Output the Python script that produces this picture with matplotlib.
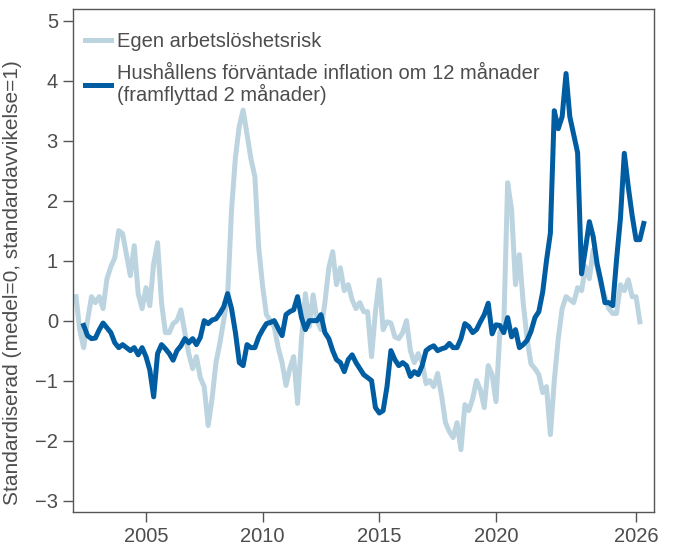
import numpy as np
import pandas as pd
import matplotlib
matplotlib.use("Agg")
import matplotlib.pyplot as plt

plt.rcParams['font.family'] = ['Liberation Sans', 'DejaVu Sans']

# Egen arbetslöshetsrisk, varannan månad från jan 2002
risk_start = '2002-01-01'
risk = [0.40, -0.15, -0.45, 0.0, 0.4, 0.30, 0.4, 0.2, 0.7, 0.9,
        1.05, 1.5, 1.45, 1.1, 0.75, 1.25, 0.45, 0.2, 0.55, 0.25,
        0.95, 1.3, 0.3, -0.2, -0.2, -0.05, 0.0, 0.18, -0.2, -0.55,
        -0.8, -0.6, -0.95, -1.1, -1.75, -1.3, -0.7, -0.38, 0.0, 0.4,
        1.85, 2.73, 3.25, 3.51, 3.1, 2.7, 2.4, 1.2, 0.57, 0.1,
        0.0, -0.1, -0.45, -0.7, -1.08, -0.8, -0.6, -1.38, -0.3, 0.45,
        -0.1, 0.43, 0.0, -0.15, 0.3, 0.88, 1.15, 0.6, 0.88, 0.5,
        0.6, 0.35, 0.2, 0.3, 0.15, 0.15, -0.6, 0.15, 0.68, -0.15,
        -0.02, -0.04, -0.27, -0.3, -0.2, 0.0, -0.5, -0.7, -0.55, -0.7,
        -1.05, -1.0, -1.1, -0.88, -1.25, -1.7, -1.85, -1.95, -1.7, -2.15,
        -1.4, -1.5, -1.3, -1.0, -1.15, -1.45, -0.75, -0.9, -1.35, -0.2,
        -0.1, 2.3, 1.85, 0.6, 1.1, 0.3, -0.3, -0.72, -0.8, -0.9,
        -1.2, -1.1, -1.9, -1.0, -0.3, 0.2, 0.4, 0.35, 0.3, 0.55,
        0.5, 0.9, 0.7, 1.18, 0.9, 0.6, 0.4, 0.2, 0.12, 0.12,
        0.6, 0.5, 0.68, 0.4, 0.4, -0.02]

# Hushållens förväntade inflation om 12 månader (framflyttad 2 månader)
infl_start = '2002-05-01'
infl = [-0.08, -0.25, -0.3, -0.29, -0.15, -0.04, -0.12, -0.2, -0.37, -0.45,
        -0.4, -0.45, -0.5, -0.45, -0.57, -0.45, -0.6, -0.82, -1.27, -0.55,
        -0.4, -0.47, -0.55, -0.66, -0.5, -0.42, -0.3, -0.37, -0.3, -0.4,
        -0.28, 0.0, -0.05, 0.01, 0.03, 0.12, 0.23, 0.45, 0.2, -0.2,
        -0.7, -0.75, -0.4, -0.45, -0.45, -0.27, -0.15, -0.05, -0.03, 0.0,
        -0.13, -0.25, 0.1, 0.15, 0.18, 0.4, 0.05, -0.15, 0.0, 0.0,
        0.0, 0.1, -0.2, -0.3, -0.5, -0.65, -0.7, -0.85, -0.65, -0.57,
        -0.7, -0.8, -0.9, -0.95, -1.0, -1.45, -1.54, -1.5, -1.1, -0.5,
        -0.65, -0.75, -0.7, -0.75, -0.93, -0.85, -0.9, -0.75, -0.5, -0.45,
        -0.42, -0.5, -0.47, -0.45, -0.38, -0.45, -0.45, -0.3, -0.05, -0.1,
        -0.2, -0.15, -0.02, 0.1, 0.29, -0.22, -0.07, -0.08, -0.2, 0.05,
        -0.27, -0.15, -0.45, -0.4, -0.33, -0.18, 0.05, 0.15, 0.48, 1.0,
        1.46, 3.5, 3.2, 3.4, 4.12, 3.4, 3.1, 2.8, 0.78, 1.2,
        1.65, 1.4, 0.95, 0.65, 0.3, 0.3, 0.25, 1.01, 1.7, 2.79,
        2.23, 1.75, 1.35, 1.35, 1.62]

year_ticks = [2005, 2010, 2015, 2020, 2026]
y_ticks = [-3, -2, -1, 0, 1, 2, 3, 4, 5]

risk_dates = pd.date_range(risk_start, periods=len(risk), freq='2MS')
infl_dates = pd.date_range(infl_start, periods=len(infl), freq='2MS')

fig = plt.figure(figsize=(6.74, 5.47), dpi=100)
ax = fig.add_axes([0.1076, 0.064, 0.862, 0.9195])

ax.plot(risk_dates, risk, color='#bcd4e0', lw=3.6, label='Egen arbetslöshetsrisk')
ax.plot(infl_dates, infl, color='#005da2', lw=3.6,
        label='Hushållens förväntade inflation om 12 månader\n(framflyttad 2 månader)')

ax.set_xlim(pd.Timestamp('2001-11-08'), pd.Timestamp('2026-10-01'))
ax.set_ylim(-3.19, 5.195)
ax.set_xticks([pd.Timestamp(f'{y}-01-01') for y in year_ticks])
ax.set_xticklabels([str(y) for y in year_ticks])
ax.set_yticks(y_ticks)

grey = '#555555'
for s in ax.spines.values():
    s.set_color(grey)
    s.set_linewidth(1.0)
ax.tick_params(direction='out', length=7.5, width=1, color=grey,
               labelcolor='#4d4d4d', labelsize=14.5, pad=3)
ax.set_ylabel('Standardiserad (medel=0, standardavvikelse=1)', fontsize=15,
              color='#4d4d4d')
ax.yaxis.set_label_coords(-0.087, 0.457)

leg = ax.legend(loc='upper left', bbox_to_anchor=(0.007, 0.97), frameon=False,
                fontsize=14.5, handlelength=1.3, handletextpad=0.3,
                labelspacing=0.65, borderaxespad=0.0, borderpad=0.4)
for t in leg.get_texts():
    t.set_color('#4d4d4d')
    t.set_linespacing(1.05)

plt.savefig('out.png', dpi=100)
